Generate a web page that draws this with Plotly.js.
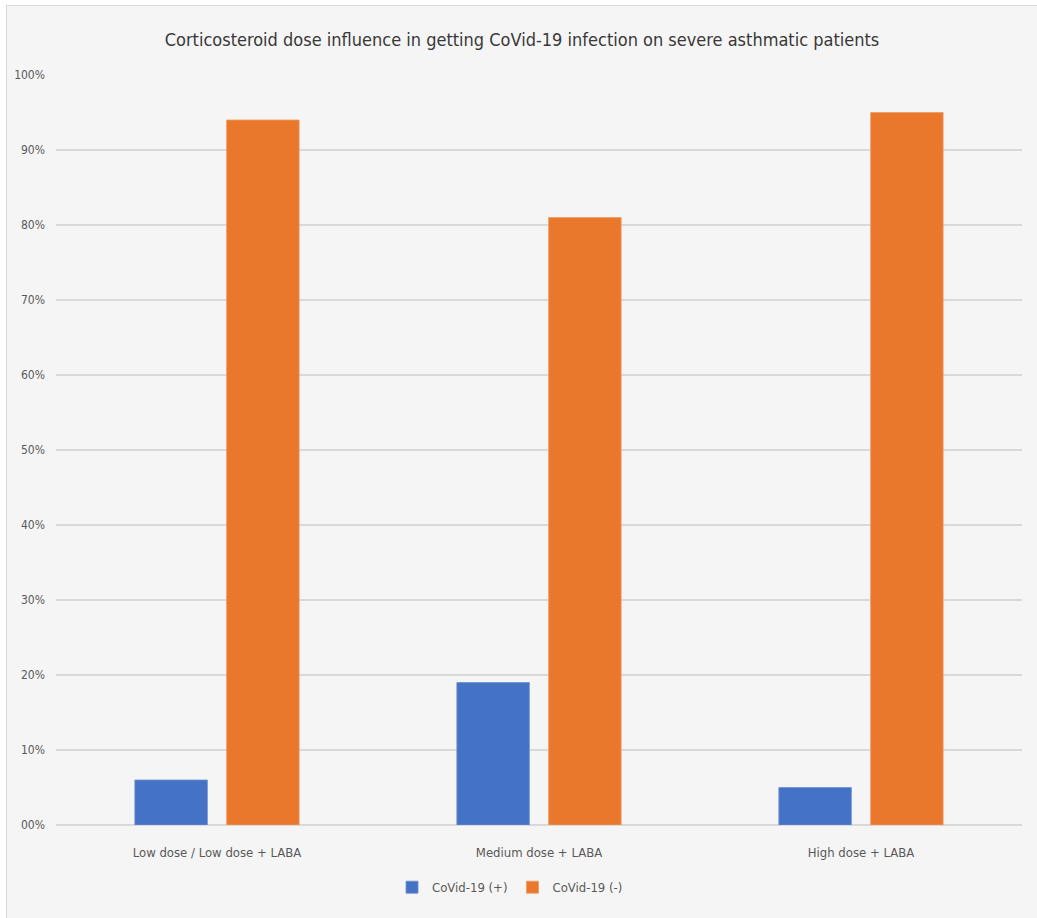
<!DOCTYPE html>
<html>
<head>
<meta charset="utf-8">
<script src="https://cdn.plot.ly/plotly-3.0.1.min.js"></script>
<style>
  html, body { margin: 0; padding: 0; background: #ffffff; }
  #frame {
    position: absolute; left: 6px; top: 5px;
    width: 1030px; height: 912px;
    border-left: 1px solid #d9d9d9; border-top: 1px solid #d9d9d9;
    background: #f5f5f5;
  }
  #chart { width: 1030px; height: 912px; }
</style>
</head>
<body>
<div id="frame"><div id="chart"></div></div>
<script>
// Dose groups and share of patients (%) per infection status
const categories = ["Low dose / Low dose + LABA", "Medium dose + LABA", "High dose + LABA"];
const covidPositive = [6, 19, 5];
const covidNegative = [94, 81, 95];
const tickValues = [0, 10, 20, 30, 40, 50, 60, 70, 80, 90, 100];
const tickLabels = ["00%", "10%", "20%", "30%", "40%", "50%", "60%", "70%", "80%", "90%", "100%"];

const FONT = "DejaVu Sans Condensed, Liberation Sans Narrow, sans-serif";

const traces = [
  {
    type: "bar", name: "CoVid-19 (+)", x: categories, y: covidPositive,
    marker: { color: "#4472C4", line: { color: "#6d8fd0", width: 0.8 } },
    hoverinfo: "skip"
  },
  {
    type: "bar", name: "CoVid-19 (-)", x: categories, y: covidNegative,
    marker: { color: "#E9782D", line: { color: "#f09a5e", width: 0.8 } },
    hoverinfo: "skip"
  }
];

const layout = {
  width: 1030, height: 912,
  paper_bgcolor: "#f5f5f5", plot_bgcolor: "#f5f5f5",
  margin: { l: 49, r: 15, t: 69, b: 93 },
  barmode: "group", bargap: 0.43, bargroupgap: 0.21,
  title: {
    text: "Corticosteroid dose influence in getting CoVid-19 infection on severe asthmatic patients",
    font: { family: FONT, size: 18, color: "#383838" },
    x: 0.5, xanchor: "center", y: 0.963, yanchor: "middle"
  },
  xaxis: {
    tickfont: { family: FONT, size: 13, color: "#595959" },
    showline: false, showgrid: false, ticks: "", ticklabelstandoff: 18,
    fixedrange: true
  },
  yaxis: {
    range: [0, 100], tickvals: tickValues, ticktext: tickLabels,
    tickfont: { family: FONT, size: 12, color: "#595959" },
    gridcolor: "#d9d9d9", gridwidth: 1.3,
    zeroline: true, zerolinecolor: "#d9d9d9", zerolinewidth: 1.5,
    showline: false, ticks: "", ticklabelstandoff: 10,
    fixedrange: true
  },
  showlegend: true,
  legend: {
    orientation: "h", x: 0.47, xanchor: "center", y: -0.083, yanchor: "middle",
    font: { family: FONT, size: 13, color: "#595959" },
    bgcolor: "rgba(0,0,0,0)", itemwidth: 30, traceorder: "normal"
  },
  font: { family: FONT }
};

Plotly.newPlot("chart", traces, layout, { displayModeBar: false, staticPlot: true });
</script>
</body>
</html>
